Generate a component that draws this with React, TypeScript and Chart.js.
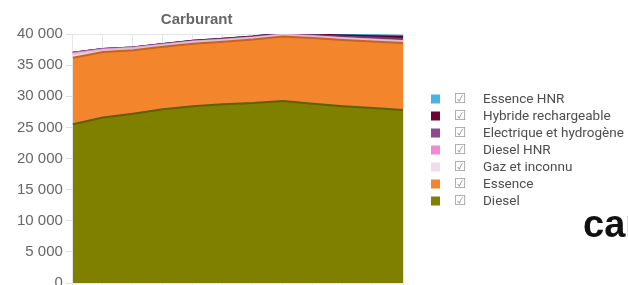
import React, { useEffect, useRef } from "react";
import { Chart, registerables } from "chart.js";

Chart.register(...registerables);

const years = ["2011", "2012", "2013", "2014", "2015", "2016", "2017", "2018", "2019", "2020", "2021", "2022"];
const diesel = [25500, 26600, 27200, 27900, 28400, 28700, 28900, 29250, 28800, 28400, 28100, 27800];
const essence = [10700, 10500, 10200, 10050, 10050, 10050, 10200, 10350, 10550, 10650, 10700, 10750];
const gazInconnu = [600, 350, 300, 300, 300, 280, 280, 270, 260, 270, 280, 290];
const dieselHNR = [150, 100, 80, 60, 50, 50, 50, 50, 50, 50, 50, 50];
const electrique = [30, 40, 50, 60, 80, 100, 120, 140, 180, 230, 290, 360];
const hybride = [0, 0, 10, 20, 30, 40, 50, 60, 100, 150, 210, 280];
const essenceHNR = [0, 0, 0, 0, 0, 0, 0, 20, 60, 100, 150, 200];

const yTicks = [0, 5000, 10000, 15000, 20000, 25000, 30000, 35000, 40000];

const seriesDefs = [
  { label: "Diesel", data: diesel, fill: "#808000", line: "#5f5f00" },
  { label: "Essence", data: essence, fill: "#f3852d", line: "#c9621c" },
  { label: "Gaz et inconnu", data: gazInconnu, fill: "#f1dcea", line: "#dcbfd2" },
  { label: "Diesel HNR", data: dieselHNR, fill: "#f08ad8", line: "#d46dbd" },
  { label: "Electrique et hydrogène", data: electrique, fill: "#8f4a8f", line: "#733673" },
  { label: "Hybride rechargeable", data: hybride, fill: "#6d0233", line: "#520024" },
  { label: "Essence HNR", data: essenceHNR, fill: "#46b3ea", line: "#2a8fc4" },
];

const fmt = (v: number) => {
  const s = Math.round(v).toString();
  return s.replace(/\B(?=(\d{3})+(?!\d))/g, " ");
};

const titlePlugin = {
  id: "customTitle",
  afterDraw(chart: any) {
    const ctx = chart.ctx;
    const area = chart.chartArea;
    ctx.save();
    ctx.font = "bold 15px 'Liberation Sans', Arial, sans-serif";
    ctx.fillStyle = "#666";
    ctx.textAlign = "center";
    ctx.textBaseline = "middle";
    const cx = area.left + (area.right - area.left) * 0.375;
    ctx.fillText("Carburant", cx, area.top - 14.5);
    ctx.restore();
  },
};

const legendPlugin = {
  id: "customLegend",
  afterDraw(chart: any) {
    const ctx = chart.ctx;
    const area = chart.chartArea;
    const ds = chart.data.datasets;
    const x0 = area.right + 28;
    const y0 = 99;
    const step = 17;
    ctx.save();
    ctx.textBaseline = "middle";
    for (let k = 0; k < ds.length; k++) {
      const d = ds[ds.length - 1 - k];
      const y = y0 + k * step;
      ctx.fillStyle = d.backgroundColor;
      ctx.fillRect(x0, y - 4.5, 9, 9);
      ctx.font = "14px 'DejaVu Sans', sans-serif";
      ctx.fillStyle = "#9a9a9a";
      ctx.textAlign = "left";
      ctx.fillText("\u2611", x0 + 23, y + 0.5);
      ctx.font = "13.5px Roboto, sans-serif";
      ctx.fillStyle = "#4d4d4d";
      ctx.fillText(d.label, x0 + 52, y + 0.5);
    }
    ctx.restore();
  },
};

export default function App() {
  const ref = useRef<HTMLCanvasElement | null>(null);

  useEffect(() => {
    document.body.style.margin = "0";
    document.body.style.overflow = "hidden";
    const canvas = ref.current;
    if (!canvas) return;
    const chart = new Chart(canvas, {
      type: "line",
      data: {
        labels: years,
        datasets: seriesDefs.map((s, i) => ({
          label: s.label,
          data: s.data,
          backgroundColor: s.fill,
          borderColor: s.line,
          borderWidth: 2,
          fill: i === 0 ? "origin" : "-1",
          pointRadius: 0,
          pointHoverRadius: 0,
          tension: 0,
        })),
      },
      options: {
        animation: false,
        responsive: false,
        devicePixelRatio: 1,
        layout: { padding: { left: 14, right: 225, top: 34, bottom: 0 } },
        plugins: {
          legend: { display: false },
          title: { display: false },
          tooltip: { enabled: false },
        },
        scales: {
          x: {
            type: "category",
            offset: false,
            grid: { color: "#e6e6e6", tickLength: 3, tickColor: "#e0e0e0" },
            border: { display: false },
            ticks: { display: false },
          },
          y: {
            stacked: true,
            min: 0,
            max: 40000,
            afterBuildTicks: (axis: any) => {
              axis.ticks = yTicks.map((v) => ({ value: v }));
            },
            grid: { color: "#e6e6e6", tickLength: 7, tickColor: "#e0e0e0" },
            border: { display: false },
            ticks: {
              color: "#666",
              padding: 3,
              font: { family: "'Liberation Sans', Arial, sans-serif", size: 15 },
              callback: (v: any) => fmt(Number(v)),
            },
          },
        },
      },
      plugins: [titlePlugin, legendPlugin],
    });
    return () => chart.destroy();
  }, []);

  return (
    <div
      style={{
        position: "fixed",
        left: 0,
        top: 0,
        width: 628,
        height: 285,
        overflow: "hidden",
        background: "#fff",
      }}
    >
      <canvas ref={ref} width={628} height={295} style={{ display: "block" }} />
      <span
        style={{
          position: "absolute",
          left: 583,
          top: 205,
          fontFamily: "'Liberation Sans', Arial, sans-serif",
          fontWeight: "bold",
          fontSize: 38,
          lineHeight: 1,
          color: "#111",
          whiteSpace: "nowrap",
        }}
      >
        carburant
      </span>
    </div>
  );
}
